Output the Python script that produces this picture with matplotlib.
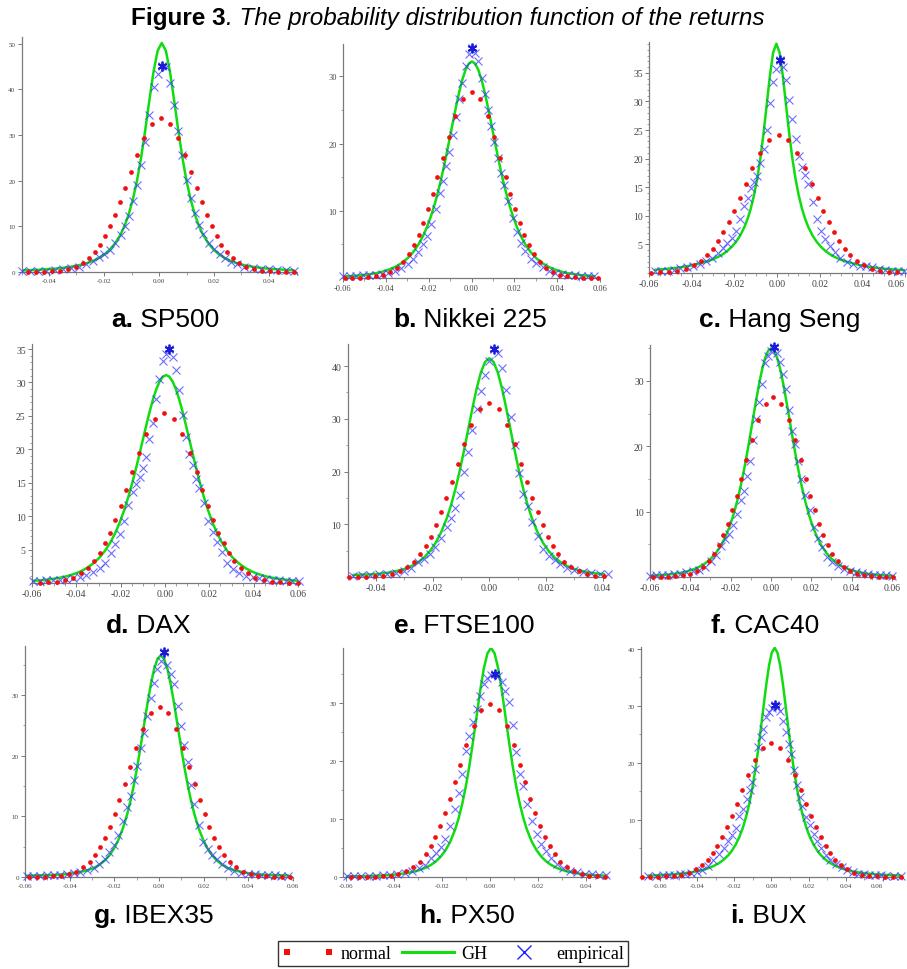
import matplotlib
matplotlib.use('Agg')
import matplotlib.pyplot as plt
from matplotlib.lines import Line2D
from matplotlib.legend_handler import HandlerLine2D
from matplotlib.ticker import MultipleLocator, FixedLocator, FixedFormatter

plt.rcParams['font.family'] = ['Liberation Sans', 'DejaVu Sans']
plt.rcParams['axes.unicode_minus'] = False

# ---------------- data: a. SP500 ----------------
X_A = [-0.050, -0.047, -0.044, -0.041, -0.038, -0.035, -0.032, -0.029, -0.0265, -0.024, -0.022, -0.020, -0.018, -0.016, -0.014, -0.0125, -0.011, -0.0095, -0.008, -0.0065, -0.005, -0.0035, -0.002, -0.0005, 0.001, 0.0025, 0.004, 0.0055, 0.007, 0.0085, 0.010, 0.0115, 0.013, 0.0145, 0.016, 0.018, 0.020, 0.022, 0.024, 0.026, 0.0285, 0.031, 0.034, 0.037, 0.040, 0.043, 0.046, 0.049]
GH_A = [0.34, 0.40, 0.48, 0.59, 0.72, 0.90, 1.15, 1.50, 1.89, 2.43, 3.01, 3.79, 4.82, 6.23, 8.19, 10.15, 12.67, 15.91, 20.01, 25.10, 31.10, 37.65, 43.87, 48.48, 50.2, 48.48, 43.87, 37.65, 31.10, 25.10, 20.01, 15.91, 12.67, 10.15, 8.19, 6.23, 4.82, 3.79, 3.01, 2.43, 1.89, 1.50, 1.15, 0.90, 0.72, 0.59, 0.48, 0.40]
EMP_A = [0.15, 0.2, 0.25, 0.3, 0.45, 0.6, 0.9, 1.2, 1.8, 2.5, 3.2, 3.9, 4.9, 6.3, 8.0, 10.0, 12.2, 15.6, 19.0, 23.5, 28.5, 34.5, 40.5, 43.5, 45.2, 45.0, 41.5, 36.5, 31.0, 25.6, 20.2, 16.2, 12.9, 10.3, 8.4, 6.4, 5.0, 3.9, 3.0, 2.3, 1.7, 1.2, 0.9, 0.7, 0.6, 0.5, 0.4, 0.3]
NX_A = [-0.0478, -0.0449, -0.0419, -0.0390, -0.0360, -0.0332, -0.0303, -0.0277, -0.0254, -0.0232, -0.0213, -0.0195, -0.0178, -0.0160, -0.0142, -0.0123, -0.0103, -0.0081, -0.0055, -0.0025, 0.0007, 0.0039, 0.0069, 0.0095, 0.0117, 0.0137, 0.0156, 0.0174, 0.0192, 0.0210, 0.0227, 0.0246, 0.0268, 0.0291, 0.0317, 0.0346, 0.0374, 0.0404, 0.0433, 0.0463, 0.0492]
NY_A = [0.01, 0.02, 0.05, 0.12, 0.28, 0.56, 1.09, 1.89, 3.00, 4.38, 5.98, 7.81, 9.98, 12.47, 15.24, 18.40, 21.87, 25.63, 29.44, 32.49, 33.7, 32.49, 29.44, 25.63, 21.87, 18.40, 15.24, 12.47, 9.98, 7.81, 5.98, 4.38, 3.00, 1.89, 1.09, 0.56, 0.28, 0.12, 0.05, 0.02, 0.01]

# ---------------- data: b. Nikkei 225 ----------------
X_B = [-0.0598, -0.0568, -0.0538, -0.0508, -0.0478, -0.0448, -0.0418, -0.0388, -0.0358, -0.0328, -0.0298, -0.0273, -0.0248, -0.0228, -0.0208, -0.0188, -0.0168, -0.0148, -0.0133, -0.0118, -0.0103, -0.0088, -0.0073, -0.0058, -0.0043, -0.0028, -0.0013, 0.0002, 0.0017, 0.0032, 0.0047, 0.0062, 0.0077, 0.0092, 0.0107, 0.0122, 0.0137, 0.0152, 0.0172, 0.0192, 0.0212, 0.0232, 0.0252, 0.0277, 0.0302, 0.0332, 0.0362, 0.0392, 0.0422, 0.0452, 0.0482, 0.0512, 0.0542, 0.0572]
GH_B = [0.22, 0.27, 0.34, 0.43, 0.55, 0.71, 0.92, 1.22, 1.62, 2.18, 2.95, 3.82, 4.97, 6.13, 7.57, 9.32, 11.41, 13.87, 15.96, 18.21, 20.58, 23.0, 25.37, 27.57, 29.48, 30.95, 31.88, 32.2, 31.88, 30.95, 29.48, 27.57, 25.37, 23.0, 20.58, 18.21, 15.96, 13.87, 11.41, 9.32, 7.57, 6.13, 4.97, 3.82, 2.95, 2.18, 1.62, 1.22, 0.92, 0.71, 0.55, 0.43, 0.34, 0.27]
EMP_B = [0.3, 0.3, 0.35, 0.4, 0.45, 0.5, 0.6, 0.8, 1.1, 1.5, 2.1, 2.9, 3.9, 5.0, 6.3, 8.0, 10.2, 12.6, 14.5, 16.6, 18.7, 21.3, 24.0, 26.6, 29.0, 31.6, 33.3, 34.2, 33.5, 32.2, 29.8, 27.3, 25.0, 22.6, 20.2, 17.8, 15.6, 13.9, 11.5, 8.9, 6.8, 5.2, 4.0, 2.9, 2.2, 1.6, 1.1, 0.8, 0.6, 0.5, 0.4, 0.35, 0.3, 0.3]
NX_B = [-0.0592, -0.0556, -0.0520, -0.0484, -0.0448, -0.0413, -0.0379, -0.0347, -0.0318, -0.0292, -0.0269, -0.0247, -0.0225, -0.0204, -0.0182, -0.0159, -0.0134, -0.0107, -0.0075, -0.0039, 0.0, 0.0039, 0.0075, 0.0107, 0.0134, 0.0159, 0.0182, 0.0204, 0.0225, 0.0247, 0.0269, 0.0292, 0.0318, 0.0347, 0.0379, 0.0413, 0.0448, 0.0484, 0.0520, 0.0556, 0.0592]
NY_B = [0.01, 0.02, 0.04, 0.10, 0.23, 0.46, 0.89, 1.55, 2.45, 3.59, 4.89, 6.40, 8.18, 10.21, 12.48, 15.07, 17.91, 20.99, 24.11, 26.61, 27.6, 26.61, 24.11, 20.99, 17.91, 15.07, 12.48, 10.21, 8.18, 6.40, 4.89, 3.59, 2.45, 1.55, 0.89, 0.46, 0.23, 0.10, 0.04, 0.02, 0.01]

# ---------------- data: c. Hang Seng ----------------
X_C = [-0.0573, -0.0543, -0.0513, -0.0483, -0.0453, -0.0423, -0.0393, -0.0363, -0.0333, -0.0303, -0.0278, -0.0253, -0.0233, -0.0213, -0.0193, -0.0173, -0.0153, -0.0138, -0.0123, -0.0108, -0.0093, -0.0078, -0.0063, -0.0048, -0.0033, -0.0018, -0.0003, 0.0012, 0.0027, 0.0042, 0.0057, 0.0072, 0.0087, 0.0102, 0.0117, 0.0132, 0.0147, 0.0167, 0.0187, 0.0207, 0.0227, 0.0247, 0.0272, 0.0297, 0.0327, 0.0357, 0.0387, 0.0417, 0.0447, 0.0477, 0.0507, 0.0537, 0.0567, 0.0597]
GH_C = [0.56, 0.64, 0.74, 0.86, 1.0, 1.18, 1.4, 1.67, 1.97, 2.36, 2.77, 3.31, 3.85, 4.54, 5.41, 6.53, 8.02, 9.46, 11.26, 13.55, 16.43, 20.05, 24.45, 29.49, 34.57, 38.56, 40.1, 38.56, 34.57, 29.49, 24.45, 20.05, 16.43, 13.55, 11.26, 9.46, 8.02, 6.53, 5.41, 4.54, 3.85, 3.31, 2.77, 2.36, 1.97, 1.67, 1.4, 1.18, 1.0, 0.86, 0.74, 0.64, 0.56, 0.5]
EMP_C = [0.3, 0.35, 0.4, 0.6, 0.8, 1.0, 1.2, 1.5, 2.1, 2.7, 3.5, 4.4, 5.2, 6.1, 7.4, 9.5, 11.8, 13.1, 14.8, 15.9, 17.0, 19.2, 21.6, 25.0, 29.7, 33.4, 35.7, 37.2, 36.0, 33.8, 30.2, 27.0, 23.5, 20.4, 18.6, 17.2, 15.5, 12.4, 9.5, 7.3, 5.9, 4.8, 3.6, 2.6, 1.9, 1.5, 1.3, 1.2, 1.0, 0.7, 0.5, 0.4, 0.3, 0.3]
NX_C = [-0.0590, -0.0548, -0.0507, -0.0467, -0.0427, -0.0390, -0.0357, -0.0327, -0.0301, -0.0276, -0.0251, -0.0226, -0.0201, -0.0175, -0.0146, -0.0115, -0.0078, -0.0037, 0.0008, 0.0053, 0.0094, 0.0131, 0.0162, 0.0191, 0.0217, 0.0242, 0.0267, 0.0292, 0.0317, 0.0343, 0.0373, 0.0406, 0.0443, 0.0483, 0.0523, 0.0564]
NY_C = [0.04, 0.09, 0.20, 0.40, 0.78, 1.35, 2.14, 3.13, 4.27, 5.59, 7.14, 8.92, 10.90, 13.16, 15.64, 18.33, 21.05, 23.24, 24.1, 23.24, 21.05, 18.33, 15.64, 13.16, 10.90, 8.92, 7.14, 5.59, 4.27, 3.13, 2.14, 1.35, 0.78, 0.40, 0.20, 0.09]

# ---------------- data: d. DAX ----------------
X_D = [-0.0595, -0.0565, -0.0535, -0.0505, -0.0475, -0.0445, -0.0415, -0.0385, -0.0355, -0.0325, -0.0295, -0.027, -0.0245, -0.0225, -0.0205, -0.0185, -0.0165, -0.0145, -0.013, -0.0115, -0.010, -0.0085, -0.007, -0.0055, -0.004, -0.0025, -0.001, 0.0005, 0.002, 0.0035, 0.005, 0.0065, 0.008, 0.0095, 0.011, 0.0125, 0.014, 0.0155, 0.0175, 0.0195, 0.0215, 0.0235, 0.0255, 0.028, 0.0305, 0.0335, 0.0365, 0.0395, 0.0425, 0.0455, 0.0485, 0.0515, 0.0545, 0.0575, 0.0605]
GH_D = [0.32, 0.39, 0.49, 0.62, 0.78, 1.00, 1.29, 1.67, 2.19, 2.89, 3.82, 4.85, 6.15, 7.45, 8.98, 10.81, 12.91, 15.30, 17.25, 19.31, 21.42, 23.52, 25.54, 27.36, 28.92, 30.10, 30.85, 31.1, 30.85, 30.10, 28.92, 27.36, 25.54, 23.52, 21.42, 19.31, 17.25, 15.30, 12.91, 10.81, 8.98, 7.45, 6.15, 4.85, 3.82, 2.89, 2.19, 1.67, 1.29, 1.00, 0.78, 0.62, 0.49, 0.39, 0.32]
EMP_D = [0.3, 0.35, 0.4, 0.45, 0.5, 0.6, 0.75, 0.9, 1.2, 1.6, 2.2, 3.0, 4.5, 5.9, 7.4, 9.2, 11.6, 13.6, 14.8, 15.9, 17.2, 18.9, 21.5, 24.0, 27.5, 30.5, 33.2, 34.2, 35.0, 33.8, 31.8, 28.8, 25.2, 21.8, 19.3, 17.6, 15.6, 14.2, 12.0, 9.3, 7.7, 6.2, 4.6, 3.0, 2.1, 1.5, 1.1, 0.85, 0.7, 0.55, 0.45, 0.4, 0.3, 0.3, 0.25]
NX_D = [-0.0566, -0.0527, -0.0488, -0.0451, -0.0413, -0.0379, -0.0347, -0.0319, -0.0294, -0.0271, -0.0247, -0.0224, -0.0200, -0.0175, -0.0149, -0.0119, -0.0084, -0.0045, -0.0003, 0.0039, 0.0078, 0.0113, 0.0143, 0.0169, 0.0194, 0.0218, 0.0241, 0.0265, 0.0288, 0.0313, 0.0341, 0.0373, 0.0407, 0.0445, 0.0482, 0.0521, 0.0560, 0.0600]
NY_D = [0.04, 0.09, 0.21, 0.43, 0.82, 1.43, 2.27, 3.32, 4.52, 5.91, 7.55, 9.44, 11.53, 13.93, 16.55, 19.39, 22.27, 24.59, 25.5, 24.59, 22.27, 19.39, 16.55, 13.93, 11.53, 9.44, 7.55, 5.91, 4.52, 3.32, 2.27, 1.43, 0.82, 0.43, 0.21, 0.09, 0.04, 0.02]

# ---------------- data: e. FTSE100 ----------------
X_E = [-0.048, -0.045, -0.042, -0.039, -0.036, -0.033, -0.030, -0.0275, -0.025, -0.023, -0.021, -0.019, -0.017, -0.015, -0.0135, -0.012, -0.0105, -0.009, -0.0075, -0.006, -0.0045, -0.003, -0.0015, 0.0, 0.0015, 0.003, 0.0045, 0.006, 0.0075, 0.009, 0.0105, 0.012, 0.0135, 0.015, 0.017, 0.019, 0.021, 0.023, 0.025, 0.0275, 0.030, 0.033, 0.036, 0.039, 0.042]
GH_E = [0.4, 0.45, 0.5, 0.6, 0.8, 1.1, 1.51, 2.06, 2.85, 3.72, 4.88, 6.43, 8.48, 11.16, 13.66, 16.62, 20.02, 23.82, 27.86, 31.93, 35.69, 38.77, 40.79, 41.5, 40.79, 38.77, 35.69, 31.93, 27.86, 23.82, 20.02, 16.62, 13.66, 11.16, 8.48, 6.43, 4.88, 3.72, 2.85, 2.06, 1.51, 1.1, 0.8, 0.6, 0.5]
EMP_E = [0.2, 0.3, 0.4, 0.5, 0.6, 0.8, 1.2, 1.8, 2.8, 3.5, 4.4, 5.7, 7.4, 9.4, 11.1, 13.0, 15.5, 20.0, 23.8, 27.8, 31.8, 35.3, 38.3, 41.0, 43.3, 42.5, 39.6, 35.4, 30.4, 25.1, 19.8, 15.8, 13.4, 10.5, 7.8, 5.4, 4.0, 3.2, 2.4, 1.8, 1.3, 0.9, 0.7, 0.6, 0.5]
NX_E = [-0.0494, -0.0464, -0.0434, -0.0404, -0.0374, -0.0345, -0.0316, -0.0289, -0.0265, -0.0243, -0.0224, -0.0206, -0.0188, -0.0170, -0.0152, -0.0133, -0.0112, -0.0089, -0.0063, -0.0033, 0.0, 0.0033, 0.0063, 0.0089, 0.0112, 0.0133, 0.0152, 0.0170, 0.0188, 0.0206, 0.0224, 0.0243, 0.0265, 0.0289, 0.0316, 0.0345, 0.0374, 0.0404]
NY_E = [0.01, 0.02, 0.05, 0.12, 0.27, 0.55, 1.07, 1.86, 2.94, 4.30, 5.87, 7.67, 9.80, 12.25, 14.96, 18.08, 21.48, 25.17, 28.91, 31.92, 33.1, 31.92, 28.91, 25.17, 21.48, 18.08, 14.96, 12.25, 9.80, 7.67, 5.87, 4.30, 2.94, 1.86, 1.07, 0.55, 0.27, 0.12]

# ---------------- data: f. CAC40 ----------------
X_F = [-0.0599, -0.0569, -0.0539, -0.0509, -0.0479, -0.0449, -0.0419, -0.0389, -0.0359, -0.0329, -0.0299, -0.0274, -0.0249, -0.0229, -0.0209, -0.0189, -0.0169, -0.0149, -0.0134, -0.0119, -0.0104, -0.0089, -0.0074, -0.0059, -0.0044, -0.0029, -0.0014, 0.0001, 0.0016, 0.0031, 0.0046, 0.0061, 0.0076, 0.0091, 0.0106, 0.0121, 0.0136, 0.0151, 0.0171, 0.0191, 0.0211, 0.0231, 0.0251, 0.0276, 0.0301, 0.0331, 0.0361, 0.0391, 0.0421, 0.0451, 0.0481, 0.0511, 0.0541, 0.0571, 0.0601]
GH_F = [0.19, 0.24, 0.30, 0.39, 0.49, 0.64, 0.84, 1.12, 1.50, 2.03, 2.78, 3.63, 4.77, 5.95, 7.42, 9.23, 11.45, 14.09, 16.37, 18.85, 21.51, 24.26, 26.98, 29.54, 31.77, 33.51, 34.62, 35.0, 34.62, 33.51, 31.77, 29.54, 26.98, 24.26, 21.51, 18.85, 16.37, 14.09, 11.45, 9.23, 7.42, 5.95, 4.77, 3.63, 2.78, 2.03, 1.50, 1.12, 0.84, 0.64, 0.49, 0.39, 0.30, 0.24, 0.19]
EMP_F = [0.2, 0.25, 0.3, 0.35, 0.4, 0.5, 0.7, 0.9, 1.1, 1.6, 2.4, 3.4, 4.8, 5.8, 6.6, 7.9, 9.7, 11.8, 13.2, 15.4, 17.8, 21.0, 24.2, 26.8, 29.5, 32.7, 33.8, 34.6, 35.2, 34.2, 32.9, 31.0, 28.7, 25.6, 22.3, 20.3, 17.8, 15.0, 12.6, 10.2, 7.6, 6.0, 4.6, 3.1, 2.3, 1.7, 1.2, 0.9, 0.7, 0.55, 0.45, 0.35, 0.3, 0.25, 0.2]
NX_F = [-0.0583, -0.0546, -0.0510, -0.0474, -0.0438, -0.0403, -0.0368, -0.0336, -0.0307, -0.0281, -0.0258, -0.0236, -0.0214, -0.0192, -0.0171, -0.0148, -0.0123, -0.0095, -0.0063, -0.0027, 0.0012, 0.0051, 0.0087, 0.0119, 0.0147, 0.0172, 0.0195, 0.0216, 0.0238, 0.0260, 0.0282, 0.0305, 0.0331, 0.0360, 0.0392, 0.0427, 0.0462, 0.0498, 0.0534, 0.0570, 0.0607]
NY_F = [0.01, 0.02, 0.04, 0.10, 0.23, 0.46, 0.89, 1.54, 2.44, 3.58, 4.88, 6.37, 8.15, 10.18, 12.43, 15.02, 17.84, 20.91, 24.02, 26.52, 27.5, 26.52, 24.02, 20.91, 17.84, 15.02, 12.43, 10.18, 8.15, 6.37, 4.88, 3.58, 2.44, 1.54, 0.89, 0.46, 0.23, 0.10, 0.04, 0.02, 0.01]

# ---------------- data: g. IBEX35 ----------------
X_G = [-0.0592, -0.0562, -0.0532, -0.0502, -0.0472, -0.0442, -0.0412, -0.0382, -0.0352, -0.0322, -0.0292, -0.0267, -0.0242, -0.0222, -0.0202, -0.0182, -0.0162, -0.0142, -0.0127, -0.0112, -0.0097, -0.0082, -0.0067, -0.0052, -0.0037, -0.0022, -0.0007, 0.0008, 0.0023, 0.0038, 0.0053, 0.0068, 0.0083, 0.0098, 0.0113, 0.0128, 0.0143, 0.0158, 0.0178, 0.0198, 0.0218, 0.0238, 0.0258, 0.0283, 0.0308, 0.0338, 0.0368, 0.0398, 0.0428, 0.0458, 0.0488, 0.0518, 0.0548, 0.0578]
GH_G = [0.22, 0.25, 0.28, 0.3, 0.35, 0.4, 0.5, 0.65, 0.85, 1.1, 1.47, 2.00, 2.76, 3.57, 4.66, 6.10, 7.98, 10.41, 12.64, 15.26, 18.25, 21.55, 25.02, 28.48, 31.65, 34.23, 35.91, 36.5, 35.91, 34.23, 31.65, 28.48, 25.02, 21.55, 18.25, 15.26, 12.64, 10.41, 7.98, 6.10, 4.66, 3.57, 2.76, 2.00, 1.47, 1.1, 0.85, 0.65, 0.5, 0.4, 0.35, 0.3, 0.28, 0.25]
EMP_G = [0.15, 0.2, 0.2, 0.25, 0.3, 0.35, 0.45, 0.6, 0.8, 1.1, 1.5, 2.1, 3.0, 4.1, 5.3, 7.0, 9.3, 11.6, 13.4, 16.0, 18.3, 21.3, 23.8, 26.5, 29.5, 32.0, 34.3, 35.6, 37.0, 35.0, 33.4, 31.8, 28.2, 24.8, 21.8, 19.0, 15.2, 12.0, 8.5, 5.8, 4.6, 3.6, 2.9, 2.1, 1.5, 1.0, 0.7, 0.55, 0.45, 0.35, 0.3, 0.25, 0.2, 0.2]
NX_G = [-0.0581, -0.0546, -0.0510, -0.0474, -0.0439, -0.0405, -0.0370, -0.0339, -0.0311, -0.0285, -0.0262, -0.0241, -0.0219, -0.0198, -0.0177, -0.0154, -0.0130, -0.0102, -0.0071, -0.0035, 0.0003, 0.0041, 0.0077, 0.0108, 0.0136, 0.0160, 0.0183, 0.0204, 0.0225, 0.0247, 0.0268, 0.0291, 0.0317, 0.0345, 0.0376, 0.0411, 0.0445, 0.0480, 0.0516, 0.0552, 0.0587]
NY_G = [0.01, 0.02, 0.04, 0.10, 0.23, 0.47, 0.90, 1.57, 2.49, 3.64, 4.96, 6.49, 8.29, 10.36, 12.66, 15.29, 18.17, 21.29, 24.46, 27.0, 28.0, 27.0, 24.46, 21.29, 18.17, 15.29, 12.66, 10.36, 8.29, 6.49, 4.96, 3.64, 2.49, 1.57, 0.90, 0.47, 0.23, 0.10, 0.04, 0.02, 0.01]

# ---------------- data: h. PX50 ----------------
X_H = [-0.0596, -0.0566, -0.0536, -0.0506, -0.0476, -0.0446, -0.0416, -0.0386, -0.0356, -0.0326, -0.0296, -0.0271, -0.0246, -0.0226, -0.0206, -0.0186, -0.0166, -0.0146, -0.0131, -0.0116, -0.0101, -0.0086, -0.0071, -0.0056, -0.0041, -0.0026, -0.0011, 0.0004, 0.0019, 0.0034, 0.0049, 0.0064, 0.0079, 0.0094, 0.0109, 0.0124, 0.0139, 0.0154, 0.0174, 0.0194, 0.0214, 0.0234, 0.0254, 0.0279, 0.0304, 0.0334, 0.0364, 0.0394, 0.0424, 0.0454, 0.0484]
GH_H = [0.09, 0.12, 0.14, 0.18, 0.22, 0.28, 0.36, 0.47, 0.63, 0.85, 1.17, 1.55, 2.09, 2.69, 3.50, 4.60, 6.09, 8.14, 10.13, 12.61, 15.63, 19.22, 23.34, 27.77, 32.18, 35.96, 38.57, 39.5, 38.57, 35.96, 32.18, 27.77, 23.34, 19.22, 15.63, 12.61, 10.13, 8.14, 6.09, 4.60, 3.50, 2.69, 2.09, 1.55, 1.17, 0.85, 0.63, 0.47, 0.36, 0.28, 0.22]
EMP_H = [0.1, 0.1, 0.15, 0.2, 0.25, 0.3, 0.4, 0.5, 0.7, 1.0, 1.5, 2.1, 3.2, 4.1, 5.1, 6.5, 8.8, 11.8, 14.5, 17.8, 21.8, 24.3, 26.8, 29.0, 31.2, 33.3, 34.3, 34.9, 35.0, 34.6, 33.6, 32.0, 30.1, 26.2, 21.6, 17.8, 15.7, 12.6, 9.7, 7.4, 5.7, 4.4, 3.3, 2.3, 1.6, 1.1, 0.8, 0.6, 0.45, 0.35, 0.3]
NX_H = [-0.0580, -0.0547, -0.0514, -0.0480, -0.0447, -0.0414, -0.0382, -0.0350, -0.0320, -0.0293, -0.0269, -0.0248, -0.0228, -0.0208, -0.0188, -0.0168, -0.0147, -0.0124, -0.0099, -0.0069, -0.0036, 0.0, 0.0036, 0.0069, 0.0099, 0.0124, 0.0147, 0.0168, 0.0188, 0.0208, 0.0228, 0.0248, 0.0269, 0.0293, 0.0320, 0.0350, 0.0382, 0.0414, 0.0447, 0.0480]
NY_H = [0.0, 0.01, 0.02, 0.04, 0.11, 0.25, 0.50, 0.97, 1.68, 2.66, 3.89, 5.30, 6.93, 8.86, 11.07, 13.52, 16.33, 19.40, 22.74, 26.12, 28.83, 29.9, 28.83, 26.12, 22.74, 19.40, 16.33, 13.52, 11.07, 8.86, 6.93, 5.30, 3.89, 2.66, 1.68, 0.97, 0.50, 0.25, 0.11, 0.04]

# ---------------- data: i. BUX ----------------
X_I = [-0.0663, -0.0623, -0.0583, -0.0553, -0.0523, -0.0493, -0.0463, -0.0433, -0.0403, -0.0373, -0.0343, -0.0313, -0.0283, -0.0258, -0.0233, -0.0213, -0.0193, -0.0173, -0.0153, -0.0133, -0.0118, -0.0103, -0.0088, -0.0073, -0.0058, -0.0043, -0.0028, -0.0013, 0.0002, 0.0017, 0.0032, 0.0047, 0.0062, 0.0077, 0.0092, 0.0107, 0.0122, 0.0137, 0.0152, 0.0167, 0.0187, 0.0207, 0.0227, 0.0247, 0.0267, 0.0292, 0.0317, 0.0347, 0.0377, 0.0407, 0.0437, 0.0467, 0.0497, 0.0527, 0.0557, 0.0587, 0.0617, 0.0657, 0.0697]
GH_I = [0.25, 0.30, 0.37, 0.42, 0.49, 0.58, 0.69, 0.82, 0.99, 1.21, 1.51, 1.90, 2.42, 3.02, 3.79, 4.61, 5.66, 7.0, 8.73, 10.98, 13.07, 15.59, 18.55, 21.99, 25.80, 29.83, 33.74, 37.10, 39.38, 40.2, 39.38, 37.10, 33.74, 29.83, 25.80, 21.99, 18.55, 15.59, 13.07, 10.98, 8.73, 7.0, 5.66, 4.61, 3.79, 3.02, 2.42, 1.90, 1.51, 1.21, 0.99, 0.82, 0.69, 0.58, 0.49, 0.42, 0.37, 0.30, 0.25]
EMP_I = [0.2, 0.25, 0.3, 0.35, 0.4, 0.45, 0.55, 0.7, 0.95, 1.3, 2.0, 2.9, 4.0, 5.0, 6.3, 7.3, 8.6, 10.7, 12.0, 13.7, 15.2, 16.6, 19.0, 22.8, 24.5, 26.0, 28.0, 28.9, 29.6, 30.1, 29.8, 29.2, 27.4, 25.4, 23.3, 21.5, 18.8, 16.2, 14.0, 12.5, 10.6, 9.2, 7.6, 6.4, 5.0, 3.9, 3.0, 2.3, 1.7, 1.2, 0.8, 0.6, 0.45, 0.4, 0.35, 0.3, 0.25, 0.2, 0.2]
NX_I = [-0.0697, -0.0655, -0.0612, -0.0570, -0.0527, -0.0486, -0.0445, -0.0408, -0.0374, -0.0343, -0.0316, -0.0291, -0.0265, -0.0240, -0.0214, -0.0187, -0.0158, -0.0126, -0.0088, -0.0046, 0.0, 0.0046, 0.0088, 0.0126, 0.0158, 0.0187, 0.0214, 0.0240, 0.0265, 0.0291, 0.0316, 0.0343, 0.0374, 0.0408, 0.0445, 0.0486, 0.0527, 0.0570, 0.0612, 0.0655, 0.0697]
NY_I = [0.0, 0.01, 0.04, 0.09, 0.19, 0.39, 0.76, 1.32, 2.09, 3.06, 4.17, 5.45, 6.96, 8.70, 10.62, 12.83, 15.25, 17.87, 20.53, 22.66, 23.5, 22.66, 20.53, 17.87, 15.25, 12.83, 10.62, 8.70, 6.96, 5.45, 4.17, 3.06, 2.09, 1.32, 0.76, 0.39, 0.19, 0.09, 0.04, 0.01, 0.0]

CAPTION_BOLD = ['a.', 'b.', 'c.', 'd.', 'e.', 'f.', 'g.', 'h.', 'i.']
CAPTION_NAME = ['SP500', 'Nikkei 225', 'Hang Seng', 'DAX', 'FTSE100', 'CAC40', 'IBEX35', 'PX50', 'BUX']
X_TICKS_6 = [-0.06, -0.04, -0.02, 0.0, 0.02, 0.04, 0.06]
X_TICKS_4 = [-0.04, -0.02, 0.0, 0.02, 0.04]
X_TICKS_H = [-0.06, -0.04, -0.02, 0.0, 0.02, 0.04]
Y_TICKS_A = [0, 10, 20, 30, 40, 50]
Y_TICKS_B = [10, 20, 30]
Y_TICKS_C = [5, 10, 15, 20, 25, 30, 35]
Y_TICKS_E = [10, 20, 30, 40]
Y_TICKS_G = [0, 10, 20, 30]
Y_TICKS_I = [10, 20, 30, 40]
LEGEND_LABELS = ['normal', 'GH', 'empirical']
TITLE_BOLD = 'Figure 3'
TITLE_REST = '. The probability distribution function of the returns'

# ---------------- layout ----------------
W, H = 907, 970
fig = plt.figure(figsize=(W / 100, H / 100), dpi=100)
fig.patch.set_facecolor('white')

ov = fig.add_axes([0, 0, 1, 1])
ov.axis('off')
ov.set_xlim(0, 1)
ov.set_ylim(0, 1)


def rect(l, r, t, b):
    return [l / W, 1 - b / H, (r - l) / W, (b - t) / H]


# (series, pixel box, xlim, ylim, xticks, yticks, x minor, y minor, label size, caption centre)
PANELS = [
    (X_A, GH_A, EMP_A, NX_A, NY_A, (21.5, 296.5, 38, 273), (-0.05, 0.05), (0, 51.5), X_TICKS_4, Y_TICKS_A, 0.01, None, 5.0, (165, 320)),
    (X_B, GH_B, EMP_B, NX_B, NY_B, (343, 600, 45, 279), (-0.06, 0.06), (0, 34.8), X_TICKS_6, Y_TICKS_B, 0.01, 5, 6.0, (470, 320)),
    (X_C, GH_C, EMP_C, NX_C, NY_C, (649, 905, 43, 274), (-0.06, 0.06), (0, 40.4), X_TICKS_6, Y_TICKS_C, 0.005, 1, 7.0, (780, 320)),
    (X_D, GH_D, EMP_D, NX_D, NY_D, (32, 298, 345, 584), (-0.06, 0.06), (0, 35.75), X_TICKS_6, Y_TICKS_C, 0.005, 1, 7.0, (148, 626)),
    (X_E, GH_E, EMP_E, NX_E, NY_E, (347.6, 605, 345, 578), (-0.05, 0.0408), (0, 44.2), X_TICKS_4, Y_TICKS_E, 0.01, 5, 7.0, (464, 626)),
    (X_F, GH_F, EMP_F, NX_F, NY_F, (650, 895, 346, 578), (-0.06, 0.0615), (0, 35.5), X_TICKS_6, Y_TICKS_B, 0.01, 5, 7.0, (765, 626)),
    (X_G, GH_G, EMP_G, NX_G, NY_G, (25, 293, 647, 878), (-0.06, 0.06), (0, 38.05), X_TICKS_6, Y_TICKS_G, 0.01, 5, 5.0, (154, 916)),
    (X_H, GH_H, EMP_H, NX_H, NY_H, (343, 607.6, 649, 878), (-0.0613, 0.049), (0, 39.5), X_TICKS_H, Y_TICKS_G, 0.01, 5, 5.0, (467, 916)),
    (X_I, GH_I, EMP_I, NX_I, NY_I, (641.4, 903, 648, 878), (-0.07, 0.0708), (0, 40.35), X_TICKS_6, Y_TICKS_I, 0.01, 5, 5.0, (768, 916)),
]

GREEN = '#10dd10'
BLUE = '#3c3cff'
DARKBLUE = '#1a1ad8'
RED = '#f01010'
SPINE = '#7a7a7a'
TICKC = '#444444'
CAP_SIZE = 19
TITLE_SIZE = 17.5

captions = []
for k, (xs, gh, emp, nx, ny, box, xl, yl, xt, yt, xminor, yminor, lsz, cap) in enumerate(PANELS):
    ax = fig.add_axes(rect(*box))
    ax.set_facecolor('none')
    ax.plot(xs, gh, color=GREEN, lw=1.8, zorder=2, solid_capstyle='round')
    ax.plot(xs, emp, ls='none', marker='x', ms=5.3, mew=0.8, color=BLUE, alpha=0.75,
            zorder=3, clip_on=False)
    # cluster of overlapping empirical points at the top of the histogram
    top = max(range(len(emp)), key=lambda j: emp[j])
    ax.plot([xs[top]], [emp[top]], ls='none', marker=(6, 2, 0), ms=7, mew=1.3,
            color=DARKBLUE, zorder=3.5, clip_on=False)
    ax.plot(nx, ny, ls='none', marker='o', ms=3.4, mew=0, color=RED, zorder=4, clip_on=False)
    ax.set_xlim(*xl)
    ax.set_ylim(*yl)
    for s in ('top', 'right'):
        ax.spines[s].set_visible(False)
    for s in ('left', 'bottom'):
        ax.spines[s].set_color(SPINE)
        ax.spines[s].set_linewidth(0.9)
    ax.xaxis.set_major_locator(FixedLocator(xt))
    ax.xaxis.set_major_formatter(FixedFormatter(['%.2f' % v for v in xt]))
    ax.yaxis.set_major_locator(FixedLocator(yt))
    ax.yaxis.set_major_formatter(FixedFormatter(['%d' % v for v in yt]))
    ax.xaxis.set_minor_locator(MultipleLocator(xminor))
    if yminor:
        ax.yaxis.set_minor_locator(MultipleLocator(yminor))
    ax.tick_params(which='major', direction='out', length=3, width=0.7, colors=SPINE,
                   labelcolor=TICKC, labelsize=lsz, pad=1.5)
    ax.tick_params(which='minor', direction='out', length=1.8, width=0.5, colors=SPINE)
    for lab in ax.get_xticklabels() + ax.get_yticklabels():
        lab.set_family(['Liberation Serif', 'DejaVu Serif'])
    if box[1] > 900:
        ax.get_xticklabels()[-1].set_horizontalalignment('right')
    # caption: bold letter + regular name, centred as one line
    t1 = ov.text(cap[0] / W, 1 - cap[1] / H, CAPTION_BOLD[k], fontsize=CAP_SIZE,
                 weight='bold', ha='left', va='center', transform=ov.transAxes)
    t2 = ov.text(cap[0] / W, 1 - cap[1] / H, ' ' + CAPTION_NAME[k], fontsize=CAP_SIZE,
                 ha='left', va='center', transform=ov.transAxes)
    captions.append((t1, t2, cap[0]))

# title
tt = ov.text(131 / W, 1 - 19 / H, TITLE_BOLD, fontsize=TITLE_SIZE, weight='bold', ha='left',
             va='center', transform=ov.transAxes)
ov.annotate(TITLE_REST, xy=(1, 0.5), xycoords=tt, ha='left', va='center',
            fontsize=TITLE_SIZE, style='italic')

# legend
h_norm = Line2D([], [], ls='none', marker='s', ms=5, color=RED, mew=0)
h_gh = Line2D([], [], color=GREEN, lw=2.2)
h_emp = Line2D([], [], ls='none', marker='x', ms=10, mew=1.0, color='#2020ff')
leg = fig.legend([h_norm, h_gh, h_emp], LEGEND_LABELS, loc='center',
                 bbox_to_anchor=(453 / W, 1 - 954.5 / H), ncol=3, frameon=True, fancybox=False,
                 numpoints=2,
                 handler_map={h_gh: HandlerLine2D(numpoints=1), h_emp: HandlerLine2D(numpoints=1)},
                 prop={'family': ['Liberation Serif', 'DejaVu Serif'], 'size': 13},
                 handlelength=2.9, handletextpad=0.35, columnspacing=0.6, borderpad=0.2,
                 borderaxespad=0)
leg.get_frame().set_edgecolor('black')
leg.get_frame().set_linewidth(1.0)

# centre each caption line on its panel position
fig.canvas.draw()
rend = fig.canvas.get_renderer()
for t1, t2, cx in captions:
    w1 = t1.get_window_extent(rend).width
    w2 = t2.get_window_extent(rend).width
    left = cx - (w1 + w2) / 2.0
    t1.set_x(left / W)
    t2.set_x((left + w1) / W)

fig.savefig('out.png', dpi=100, facecolor='white')
